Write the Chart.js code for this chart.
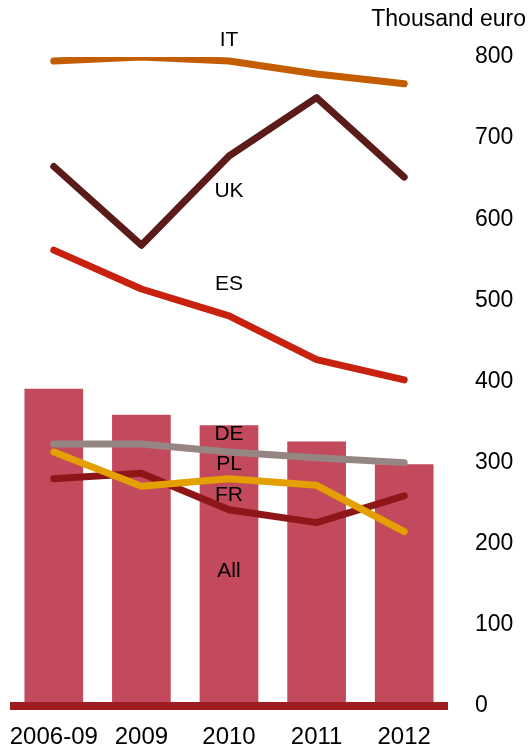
<!DOCTYPE html>
<html lang="en">
<head>
    <meta charset="UTF-8">
    <title>Thousand euro</title>
    <script src="https://cdn.jsdelivr.net/npm/chart.js@4.4.1/dist/chart.umd.min.js"></script>
    <style>
        body { margin: 0; background: #fff; }
        #wrap { width: 529px; height: 749px; position: relative; }
    </style>
</head>
<body>
<div id="wrap"><canvas id="mychart"></canvas></div>
<script>
    const years = ['2006-09', '2009', '2010', '2011', '2012'];

    const all = [391, 359, 346, 326, 298];
    const it = [795, 800, 795, 779, 767];
    const uk = [665, 568, 678, 750, 652];
    const es = [562, 514, 481, 427, 402];
    const de = [323, 323, 313, 306, 300];
    const pl = [313, 271, 280, 272, 215];
    const fr = [280, 287, 242, 226, 259];

    const yTicks = [0, 100, 200, 300, 400, 500, 600, 700, 800];

    // name tags, written over the 2010 column
    const tagNames = ['IT', 'UK', 'ES', 'DE', 'PL', 'FR', 'All'];
    const tagValues = [821, 634, 520, 335, 298, 260, 166];

    const FONT = '"Liberation Sans", Arial, sans-serif';

    function line(label, data, color, order) {
        return {
            type: 'line', label, data, order,
            borderColor: color, borderWidth: 7,
            borderCapStyle: 'round', borderJoinStyle: 'round',
            pointRadius: 0, tension: 0, fill: false
        };
    }

    const extras = {
        id: 'extras',
        afterDatasetsDraw(chart) {
            const {ctx, chartArea, scales} = chart;
            const y0 = scales.y.getPixelForValue(0);
            ctx.save();
            ctx.strokeStyle = '#a01d1f';
            ctx.lineWidth = 8;
            ctx.beginPath();
            ctx.moveTo(chartArea.left, y0);
            ctx.lineTo(chartArea.right, y0);
            ctx.stroke();

            ctx.fillStyle = '#000';
            ctx.font = '21px ' + FONT;
            ctx.textAlign = 'center';
            ctx.textBaseline = 'middle';
            const x = scales.x.getPixelForValue(2);
            tagNames.forEach((t, i) => {
                ctx.fillText(t, x, scales.y.getPixelForValue(tagValues[i]));
            });

            ctx.font = '23px ' + FONT;
            ctx.textAlign = 'right';
            ctx.fillText('Thousand euro', 526, 20);
            ctx.restore();
        }
    };

    const ctx = document.getElementById('mychart').getContext('2d');
    new Chart(ctx, {
        type: 'bar',
        data: {
            labels: years,
            datasets: [
                line('IT', it, '#c45c00', 1),
                line('UK', uk, '#5a1b19', 1),
                line('ES', es, '#c8220f', 1),
                line('DE', de, '#968683', 1),
                line('PL', pl, '#e3a000', 2),
                line('FR', fr, '#8f1618', 3),
                {
                    type: 'bar', label: 'All', data: all, order: 10,
                    backgroundColor: '#c24a5c',
                    categoryPercentage: 1, barPercentage: 0.67
                }
            ]
        },
        options: {
            responsive: true,
            maintainAspectRatio: false,
            animation: false,
            layout: { padding: { top: 57, left: 10, right: 0, bottom: 0 } },
            plugins: { legend: { display: false }, tooltip: { enabled: false } },
            scales: {
                x: {
                    grid: { display: false },
                    border: { display: false },
                    afterFit(scale) {
                        scale.height = 43;
                        scale.paddingLeft = 0;
                        scale.paddingRight = 0;
                    },
                    ticks: {
                        color: '#000', padding: 9, maxRotation: 0, autoSkip: false,
                        font: { size: 24, family: FONT }
                    }
                },
                y: {
                    position: 'right',
                    min: 0, max: 800,
                    grid: { display: false },
                    border: { display: false },
                    afterFit(scale) { scale.width = 81; },
                    afterBuildTicks(scale) { scale.ticks = yTicks.map(v => ({ value: v })); },
                    ticks: {
                        color: '#000', padding: 19,
                        font: { size: 23, family: FONT }
                    }
                }
            }
        },
        plugins: [extras]
    });
</script>
</body>
</html>
